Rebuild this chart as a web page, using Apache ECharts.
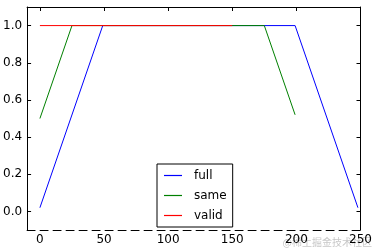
<!DOCTYPE html>
<html>
<head>
<meta charset="utf-8">
<script src="https://cdn.jsdelivr.net/npm/echarts@6/dist/echarts.min.js"></script>
<style>html,body{margin:0;padding:0;background:#fff}#c{width:375px;height:251px}</style>
</head>
<body>
<div id="c"></div>
<script>
const seriesNames = ['full', 'same', 'valid'];
const fullData = [[0, 0.02], [49, 1.0], [199, 1.0], [248, 0.02]];
const sameData = [[0, 0.5], [25, 1.0], [175, 1.0], [199, 0.52]];
const validData = [[0, 1.0], [150, 1.0]];
const xTicks = [0, 50, 100, 150, 200, 250];
const yTicks = [0.0, 0.2, 0.4, 0.6, 0.8, 1.0];
const colors = ['#0000ff', '#008000', '#ff0000'];

const font = 'DejaVu Sans';
const chart = echarts.init(document.getElementById('c'), null, {renderer: 'canvas'});
const solidLine = {show: true, onZero: false, lineStyle: {color: '#000', width: 1}};
const tickStyle = {show: true, inside: true, length: 4, lineStyle: {color: '#000'}};
chart.setOption({
  animation: false,
  backgroundColor: '#fff',
  grid: {left: 26.5, right: 14.5, top: 7, bottom: 21, containLabel: false},
  legend: {
    orient: 'vertical',
    left: 157, top: 164,
    padding: [4, 6, 4, 7],
    itemWidth: 18, itemHeight: 14, itemGap: 5,
    borderColor: '#000', borderWidth: 1, borderRadius: 0,
    backgroundColor: '#fff',
    icon: 'path://M0,0L18,0L18,1.2L0,1.2Z',
    textStyle: {fontFamily: font, fontSize: 12, color: '#000', padding: [0, 0, 0, 7], lineHeight: 15},
    data: seriesNames.map((n, i) => ({name: n, itemStyle: {color: colors[i], borderWidth: 0}}))
  },
  xAxis: [
    {
      type: 'value', position: 'bottom', min: -10, max: 250, splitLine: {show: false},
      axisLine: {show: true, onZero: false, lineStyle: {color: '#000', width: 1, type: [8, 5]}},
      axisTick: {show: false},
      axisLabel: {customValues: xTicks, fontFamily: font, fontSize: 12, color: '#000', margin: 4}
    },
    {
      type: 'value', position: 'top', min: -10, max: 250, splitLine: {show: false},
      axisLine: solidLine,
      axisTick: Object.assign({customValues: xTicks}, tickStyle),
      axisLabel: {show: false}
    }
  ],
  yAxis: [
    {
      type: 'value', position: 'left', min: -0.1, max: 1.1, splitLine: {show: false},
      axisLine: solidLine,
      axisTick: Object.assign({customValues: yTicks}, tickStyle),
      axisLabel: {customValues: yTicks, fontFamily: font, fontSize: 12, color: '#000', margin: 5,
        formatter: v => v.toFixed(1)}
    },
    {
      type: 'value', position: 'right', min: -0.1, max: 1.1, splitLine: {show: false},
      axisLine: solidLine,
      axisTick: Object.assign({customValues: yTicks}, tickStyle),
      axisLabel: {show: false}
    }
  ],
  series: [
    {name: seriesNames[0], type: 'line', data: fullData, symbol: 'none', color: colors[0], itemStyle: {color: colors[0]}, lineStyle: {width: 1, color: colors[0]}},
    {name: seriesNames[1], type: 'line', data: sameData, symbol: 'none', color: colors[1], itemStyle: {color: colors[1]}, lineStyle: {width: 1, color: colors[1]}},
    {name: seriesNames[2], type: 'line', data: validData, symbol: 'none', color: colors[2], itemStyle: {color: colors[2]}, lineStyle: {width: 1, color: colors[2]}}
  ],
  graphic: [{
    type: 'text', right: 3, top: 237,
    style: {text: '@稀土掘金技术社区', fill: '#c8c8c8', font: '10px "Noto Sans CJK SC"'}
  }]
});
</script>
</body>
</html>
